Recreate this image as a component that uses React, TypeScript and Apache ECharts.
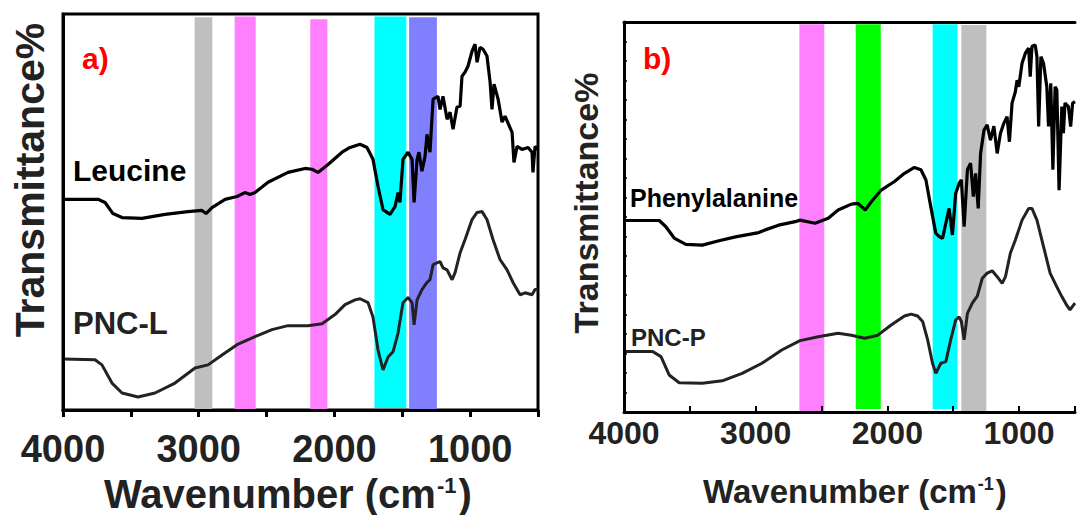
import React, { useEffect, useRef } from "react";
import * as echarts from "echarts";

// ---------- DATA ----------
// wavenumber (cm-1), transmittance (a.u., offset)
const leucine: [number, number][] = [
  [4000, 53.2], [3742, 53.2], [3690, 52.4], [3632, 49.6], [3565, 48.6], [3418, 48.4], [3248, 49.4],
  [3079, 50.1], [2976, 50.4], [2946, 49.6], [2902, 51.1], [2806, 53.2], [2718, 53.9], [2659, 54.9],
  [2622, 54.4], [2585, 54.9], [2489, 57.5], [2342, 60.0], [2217, 61.0], [2165, 60.8], [2121, 60.0],
  [2047, 62.0], [1944, 65.1], [1885, 66.3], [1811, 67.1], [1760, 66.3], [1716, 63.3], [1679, 56.5],
  [1642, 50.6], [1590, 49.4], [1553, 51.4], [1531, 54.9], [1517, 52.4], [1495, 63.3], [1458, 65.1],
  [1428, 63.3], [1413, 52.4], [1391, 63.3], [1377, 65.1], [1355, 60.3], [1332, 64.1], [1318, 69.6],
  [1296, 65.1], [1273, 78.5], [1237, 79.2], [1222, 75.9], [1200, 79.2], [1170, 73.4], [1148, 75.2],
  [1126, 70.9], [1097, 76.5], [1074, 76.7], [1060, 84.3], [1038, 85.3], [1016, 86.8], [986, 90.6],
  [964, 92.4], [949, 87.8], [927, 91.6], [905, 91.1], [876, 89.4], [853, 82.8], [839, 75.9],
  [824, 82.3], [794, 78.5], [765, 72.7], [743, 74.2], [691, 70.1], [677, 62.5], [654, 66.6],
  [618, 65.8], [573, 66.3], [544, 65.1], [537, 60.0], [522, 66.6], [500, 65.8],
];

const pncL: [number, number][] = [
  [4000, 12.9], [3764, 12.7], [3713, 11.4], [3639, 6.8], [3565, 4.3], [3447, 3.3], [3322, 4.3],
  [3175, 6.8], [3027, 10.6], [2931, 11.4], [2828, 13.9], [2718, 16.5], [2585, 18.5], [2460, 20.3],
  [2342, 21.3], [2195, 21.3], [2091, 21.8], [1996, 24.1], [1922, 26.6], [1848, 27.8], [1811, 28.1],
  [1752, 27.1], [1716, 23.5], [1679, 15.2], [1642, 10.1], [1605, 13.4], [1568, 14.7], [1531, 19.5],
  [1495, 27.1], [1458, 28.4], [1428, 27.1], [1413, 21.5], [1391, 27.8], [1355, 30.4], [1318, 32.2],
  [1296, 32.9], [1273, 36.7], [1222, 37.5], [1200, 35.9], [1170, 35.4], [1133, 32.9], [1111, 34.7],
  [1074, 39.7], [1038, 43.0], [986, 48.1], [949, 49.9], [912, 50.1], [876, 48.1], [831, 43.0],
  [780, 38.0], [728, 35.4], [684, 32.2], [632, 29.1], [595, 29.6], [544, 29.1], [522, 30.4], [500, 30.4],
];

const phenylalanine: [number, number][] = [
  [4000, 49.1], [3732, 49.1], [3682, 47.5], [3619, 44.6], [3531, 43.0], [3405, 42.8], [3279, 43.9],
  [3153, 44.9], [2977, 46.0], [2927, 46.7], [2826, 47.9], [2700, 48.8], [2663, 49.2], [2549, 48.4],
  [2449, 49.7], [2374, 51.8], [2273, 53.3], [2223, 53.5], [2168, 51.8], [2122, 53.9], [2047, 56.9],
  [1946, 59.1], [1870, 61.2], [1795, 62.7], [1745, 62.1], [1707, 59.5], [1670, 52.6], [1632, 45.8],
  [1606, 45.0], [1581, 44.5], [1556, 48.4], [1531, 52.2], [1506, 45.4], [1481, 56.1], [1455, 58.6],
  [1438, 59.5], [1417, 47.5], [1392, 62.1], [1368, 63.8], [1347, 55.2], [1330, 61.2], [1310, 52.2],
  [1292, 66.3], [1266, 72.3], [1242, 73.6], [1217, 69.7], [1191, 73.3], [1166, 66.3], [1141, 71.5],
  [1116, 74.0], [1091, 75.7], [1073, 69.3], [1053, 79.2], [1028, 82.1], [1015, 85.1], [1002, 83.4],
  [977, 89.4], [952, 92.0], [927, 93.3], [915, 86.0], [902, 93.7], [877, 94.1], [864, 91.1],
  [851, 73.2], [834, 91.1], [814, 89.4], [789, 83.4], [776, 73.2], [759, 84.3], [743, 62.1],
  [726, 83.4], [713, 82.6], [696, 56.9], [675, 78.3], [663, 71.5], [651, 79.2], [625, 78.3],
  [608, 73.2], [593, 79.2], [575, 79.6],
];

const pncP: [number, number][] = [
  [4000, 15.5], [3783, 15.5], [3719, 14.2], [3657, 9.5], [3581, 7.5], [3405, 7.4], [3254, 8.0],
  [3103, 9.9], [2952, 12.5], [2802, 15.9], [2663, 18.3], [2525, 19.3], [2374, 20.2], [2273, 19.7],
  [2172, 18.9], [2072, 19.7], [1971, 22.3], [1870, 24.6], [1820, 25.1], [1770, 24.6], [1732, 23.2],
  [1694, 18.5], [1657, 12.5], [1632, 9.9], [1594, 12.5], [1556, 12.9], [1519, 18.5], [1481, 23.6],
  [1455, 24.4], [1438, 23.2], [1417, 18.5], [1392, 25.3], [1355, 27.9], [1317, 29.7], [1279, 34.3],
  [1242, 35.6], [1204, 36.2], [1166, 34.7], [1128, 33.0], [1103, 34.7], [1066, 40.7], [1028, 44.1],
  [977, 49.2], [927, 52.2], [902, 52.2], [864, 49.2], [814, 42.4], [764, 35.6], [713, 32.1],
  [675, 29.6], [638, 27.4], [613, 26.2], [575, 27.9],
];

// highlighted bands: [from, to] wavenumber, [bottom, top] transmittance
const bandsA: [number, number, number, number][] = [
  [3030, 2900, 0, 99.2],
  [2735, 2580, 0, 99.4],
  [2178, 2052, 0, 98.7],
  [1705, 1470, 0.5, 99.4],
  [1450, 1245, 0, 99.2],
];
const bandColorsA = ["#bfbfbf", "#ff80ff", "#ff80ff", "#00ffff", "#8080ff"];

const bandsB: [number, number, number, number][] = [
  [2668, 2479, 0, 99.4],
  [2240, 2050, 0.8, 99.4],
  [1656, 1467, 0.8, 99.4],
  [1438, 1248, 0, 99.2],
];
const bandColorsB = ["#ff80ff", "#00ff00", "#00ffff", "#bfbfbf"];

const xTicks = [4000, 3000, 2000, 1000];
const xRangeA = [500, 4000];
const xRangeB = [575, 4000];

// ---------- COMPONENT ----------
const FONT = "'Liberation Sans', Arial, sans-serif";

function bandAreas(bands: [number, number, number, number][], colors: string[]) {
  return bands.map((b, i) => [
    { xAxis: b[0], yAxis: b[2], itemStyle: { color: colors[i], opacity: 1, borderWidth: 0 } },
    { xAxis: b[1], yAxis: b[3] },
  ]);
}

function txt(
  text: string,
  x: number,
  y: number,
  size: number,
  color: string,
  align: string = "left",
  rotation = 0
) {
  return {
    type: "text",
    x,
    y,
    rotation,
    z: 20,
    style: {
      text,
      fill: color,
      font: `bold ${size}px ${FONT}`,
      textAlign: align,
      textVerticalAlign: "middle",
    },
  };
}

function xTitle(x: number, y: number, size: number, supSize: number) {
  return {
    type: "text",
    x,
    y,
    z: 20,
    style: {
      text: "{m|Wavenumber (cm}{s|-1}{m|)}",
      textAlign: "left",
      textVerticalAlign: "middle",
      fill: "#222",
      rich: {
        m: { fontSize: size, fontWeight: "bold", fontFamily: FONT, fill: "#222", lineHeight: size },
        s: {
          fontSize: supSize, fontWeight: "bold", fontFamily: FONT, fill: "#222",
          lineHeight: supSize, verticalAlign: "top", padding: [0, 2, 0, 1],
        },
      },
    },
  };
}

export default function App() {
  const ref = useRef<HTMLDivElement>(null);

  useEffect(() => {
    if (!ref.current) return;
    const chart = echarts.init(ref.current, undefined, { renderer: "svg" });
    const lbl = (v: number) => (xTicks.indexOf(v) >= 0 ? String(v) : "");
    const blackLine = { show: true, lineStyle: { color: "#000", width: 3 } };
    const option: any = {
      animation: false,
      backgroundColor: "#ffffff",
      grid: [
        { left: 63, top: 14, width: 475, height: 396, show: true, borderColor: "#000", borderWidth: 3, backgroundColor: "transparent" },
        { left: 624, top: 22, width: 454, height: 390, show: false },
      ],
      xAxis: [
        {
          gridIndex: 0, type: "value", inverse: true, min: xRangeA[0], max: xRangeA[1], interval: 500, z: 10,
          position: "bottom",
          axisLine: blackLine,
          axisTick: { show: true, inside: false, length: 7, lineStyle: { color: "#000", width: 3 } },
          axisLabel: { formatter: lbl, fontSize: 38, fontWeight: "bold", color: "#222", fontFamily: FONT, margin: 20 },
          splitLine: { show: false },
        },
        {
          gridIndex: 1, type: "value", inverse: true, min: xRangeB[0], max: xRangeB[1], splitNumber: 7, z: 10,
          position: "bottom",
          axisLine: blackLine,
          axisTick: { show: true, inside: true, length: 6, lineStyle: { color: "#000", width: 2 } },
          axisLabel: { formatter: lbl, fontSize: 32, fontWeight: "bold", color: "#222", fontFamily: FONT, margin: 5 },
          splitLine: { show: false },
        },
        {
          gridIndex: 1, type: "value", inverse: true, min: xRangeB[0], max: xRangeB[1], splitNumber: 7, z: 10,
          position: "top",
          axisLine: blackLine,
          axisTick: { show: false }, axisLabel: { show: false }, splitLine: { show: false },
        },
      ],
      yAxis: [
        {
          gridIndex: 0, type: "value", min: 0, max: 100, z: 10, position: "left",
          axisLine: blackLine,
          axisTick: { show: false }, axisLabel: { show: false }, splitLine: { show: false },
        },
        {
          gridIndex: 1, type: "value", min: 0, max: 100, interval: 5, z: 10, position: "left",
          axisLine: blackLine,
          axisTick: { show: true, inside: true, length: 3, lineStyle: { color: "#000", width: 1.5 } },
          axisLabel: { show: false }, splitLine: { show: false },
        },
      ],
      series: [
        {
          name: "Leucine", type: "line", xAxisIndex: 0, yAxisIndex: 0, data: leucine,
          showSymbol: false, symbol: "none", lineStyle: { color: "#000", width: 3.2 }, z: 3,
          markArea: { silent: true, z: 1, data: bandAreas(bandsA, bandColorsA) },
        },
        {
          name: "PNC-L", type: "line", xAxisIndex: 0, yAxisIndex: 0, data: pncL,
          showSymbol: false, symbol: "none", lineStyle: { color: "#222", width: 3 }, z: 3,
        },
        {
          name: "Phenylalanine", type: "line", xAxisIndex: 1, yAxisIndex: 1, data: phenylalanine,
          showSymbol: false, symbol: "none", lineStyle: { color: "#000", width: 3.2 }, z: 3,
          markArea: { silent: true, z: 1, data: bandAreas(bandsB, bandColorsB) },
        },
        {
          name: "PNC-P", type: "line", xAxisIndex: 1, yAxisIndex: 1, data: pncP,
          showSymbol: false, symbol: "none", lineStyle: { color: "#222", width: 3 }, z: 3,
        },
      ],
      graphic: [
        // panel a
        txt("a)", 82, 58, 30, "#ff0000"),
        txt("Leucine", 73, 170, 30, "#000"),
        txt("PNC-L", 73, 323, 31, "#222"),
        txt("Transmittance%", 30, 180, 41, "#222", "center", Math.PI / 2),
        xTitle(104, 494, 40, 22),
        // panel b
        txt("b)", 643, 58, 30, "#ff0000"),
        txt("Phenylalanine", 630, 198, 25, "#000"),
        txt("PNC-P", 631, 337, 24, "#222"),
        txt("Transmittance%", 586, 203, 34, "#222", "center", Math.PI / 2),
        xTitle(703, 491, 33, 18),
      ],
    };
    chart.setOption(option);
    return () => chart.dispose();
  }, []);

  return (
    <div
      ref={ref}
      style={{ position: "absolute", left: 0, top: 0, width: 1078, height: 515, overflow: "hidden" }}
    />
  );
}
